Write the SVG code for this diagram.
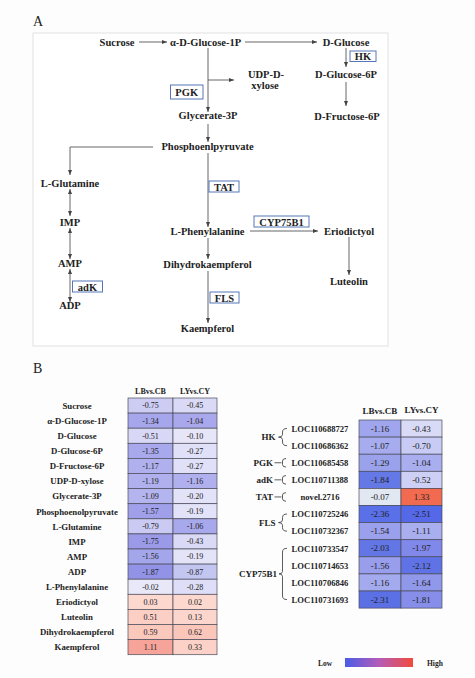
<svg xmlns="http://www.w3.org/2000/svg" width="475" height="678" viewBox="0 0 475 678">
<defs>
<style>
.lbl{font-family:"Liberation Serif","Times New Roman",serif;font-weight:bold;font-size:10.5px;fill:#222;text-anchor:middle}
.enz{font-family:"Liberation Serif","Times New Roman",serif;font-weight:bold;font-size:10.5px;fill:#222;text-anchor:middle}
.box{fill:#fff;stroke:#5577b8;stroke-width:1}
.pan{font-family:"Liberation Serif","Times New Roman",serif;font-size:14px;fill:#222}
.con{fill:none;stroke:#555;stroke-width:0.9}
.rl{font-family:"Liberation Serif","Times New Roman",serif;font-weight:bold;font-size:8.8px;fill:#222;text-anchor:middle}
.hd{font-family:"Liberation Serif","Times New Roman",serif;font-weight:bold;font-size:8px;fill:#222;text-anchor:middle}
.hd2{font-family:"Liberation Serif","Times New Roman",serif;font-weight:bold;font-size:9px;fill:#222;text-anchor:middle}
.v{font-family:"Liberation Serif","Times New Roman",serif;font-size:8px;fill:#222;text-anchor:middle}
.v2{font-family:"Liberation Serif","Times New Roman",serif;font-size:9px;fill:#222;text-anchor:middle}
.gl{font-family:"Liberation Serif","Times New Roman",serif;font-weight:bold;font-size:8.6px;fill:#222;text-anchor:middle}
.gr{font-family:"Liberation Serif","Times New Roman",serif;font-weight:bold;font-size:9px;fill:#222;text-anchor:end}
.cell{stroke:#4a4a5a;stroke-width:0.7}
.br{fill:none;stroke:#333;stroke-width:0.8}
.leg{font-family:"Liberation Serif","Times New Roman",serif;font-weight:bold;font-size:7.5px;fill:#222}
</style>
<marker id="ah" markerUnits="userSpaceOnUse" markerWidth="5" markerHeight="4" refX="5" refY="2" orient="auto-start-reverse">
<path d="M0,0 L5,2 L0,4 z" fill="#444"/>
</marker>
<linearGradient id="lg" x1="0" y1="0" x2="1" y2="0">
<stop offset="0" stop-color="#4a5ce6"/>
<stop offset="0.5" stop-color="#b45cb8"/>
<stop offset="1" stop-color="#f24a3c"/>
</linearGradient>
</defs>
<rect x="0" y="0" width="475" height="678" fill="#fdfdfd"/>

<!-- Panel A -->
<text class="pan" x="33" y="26">A</text>
<rect x="33" y="33" width="355" height="313" fill="#fff" stroke="#e2e2e2" stroke-width="1"/>

<g id="connectors">
<line class="con" x1="139" y1="42" x2="167" y2="42" marker-end="url(#ah)"/>
<line class="con" x1="245" y1="42" x2="317" y2="42" marker-end="url(#ah)"/>
<line class="con" x1="346" y1="48" x2="346" y2="67" marker-end="url(#ah)"/>
<line class="con" x1="346" y1="82" x2="346" y2="106" marker-end="url(#ah)"/>
<line class="con" x1="208" y1="48" x2="208" y2="112" marker-end="url(#ah)"/>
<line class="con" x1="208" y1="80" x2="234" y2="80" marker-end="url(#ah)"/>
<line class="con" x1="208" y1="124" x2="208" y2="142" marker-end="url(#ah)"/>
<polyline class="con" points="153,147 70,147 70,175" marker-end="url(#ah)"/>
<line class="con" x1="70" y1="189" x2="70" y2="216" marker-start="url(#ah)" marker-end="url(#ah)"/>
<line class="con" x1="70" y1="228" x2="70" y2="259" marker-start="url(#ah)" marker-end="url(#ah)"/>
<line class="con" x1="70" y1="269" x2="70" y2="302" marker-start="url(#ah)" marker-end="url(#ah)"/>
<line class="con" x1="208" y1="153" x2="208" y2="227" marker-end="url(#ah)"/>
<line class="con" x1="250" y1="231" x2="318" y2="231" marker-end="url(#ah)"/>
<line class="con" x1="349" y1="237" x2="349" y2="275" marker-end="url(#ah)"/>
<line class="con" x1="208" y1="238" x2="208" y2="259" marker-end="url(#ah)"/>
<line class="con" x1="208" y1="271" x2="208" y2="323" marker-end="url(#ah)"/>
</g>

<g id="n-sucrose"><text class="lbl" x="117" y="46">Sucrose</text></g>
<g id="n-ag1p"><text class="lbl" x="205.5" y="46">α-D-Glucose-1P</text></g>
<g id="n-dglucose"><text class="lbl" x="346" y="46">D-Glucose</text></g>
<g id="n-dg6p"><text class="lbl" x="346" y="78">D-Glucose-6P</text></g>
<g id="n-df6p"><text class="lbl" x="347" y="120">D-Fructose-6P</text></g>
<g id="n-udp"><text class="lbl" x="266" y="78">UDP-D-</text><text class="lbl" x="265" y="89">xylose</text></g>
<g id="n-gly3p"><text class="lbl" x="208" y="119">Glycerate-3P</text></g>
<g id="n-pep"><text class="lbl" x="207.5" y="150">Phosphoenlpyruvate</text></g>
<g id="n-lglu"><text class="lbl" x="70" y="187">L-Glutamine</text></g>
<g id="n-imp"><text class="lbl" x="70" y="226">IMP</text></g>
<g id="n-amp"><text class="lbl" x="70" y="267">AMP</text></g>
<g id="n-adp"><text class="lbl" x="70" y="309">ADP</text></g>
<g id="n-lphe"><text class="lbl" x="207.5" y="235">L-Phenylalanine</text></g>
<g id="n-erio"><text class="lbl" x="349" y="235">Eriodictyol</text></g>
<g id="n-lute"><text class="lbl" x="349" y="285">Luteolin</text></g>
<g id="n-dhk"><text class="lbl" x="207.5" y="268">Dihydrokaempferol</text></g>
<g id="n-kae"><text class="lbl" x="207.5" y="332">Kaempferol</text></g>

<g id="e-hk"><rect class="box" x="350" y="51" width="26" height="10.5"/><text class="enz" x="363" y="60">HK</text></g>
<g id="e-pgk"><rect class="box" x="170.5" y="85" width="32.5" height="14"/><text class="enz" x="186.7" y="96">PGK</text></g>
<g id="e-tat"><rect class="box" x="209" y="181" width="30" height="11"/><text class="enz" x="224" y="190.5">TAT</text></g>
<g id="e-cyp"><rect class="box" x="254" y="216" width="55" height="11"/><text class="enz" x="281.5" y="225.5">CYP75B1</text></g>
<g id="e-adk"><rect class="box" x="72.5" y="281" width="30" height="11"/><text class="enz" x="87.5" y="290.5">adK</text></g>
<g id="e-fls"><rect class="box" x="210" y="292" width="29" height="11"/><text class="enz" x="224.5" y="301.5">FLS</text></g>

<!-- Panel B -->
<text class="pan" x="33" y="373">B</text>

<g id="heatmap-left">
<text class="hd" x="150.5" y="394">LBvs.CB</text>
<text class="hd" x="195" y="394">LYvs.CY</text>
<g class="cell">
<rect x="128" y="398" width="45" height="15.1" fill="#cdcdf4"/><rect x="173" y="398" width="44" height="15.1" fill="#dadaf6"/>
<rect x="128" y="413.1" width="45" height="15.1" fill="#a6a6ec"/><rect x="173" y="413.1" width="44" height="15.1" fill="#aaa8ec"/>
<rect x="128" y="428.2" width="45" height="15.1" fill="#d8d8f6"/><rect x="173" y="428.2" width="44" height="15.1" fill="#e6e6f8"/>
<rect x="128" y="443.3" width="45" height="15.1" fill="#a8a8ec"/><rect x="173" y="443.3" width="44" height="15.1" fill="#e0e0f8"/>
<rect x="128" y="458.4" width="45" height="15.1" fill="#b0b0ee"/><rect x="173" y="458.4" width="44" height="15.1" fill="#e0e0f8"/>
<rect x="128" y="473.5" width="45" height="15.1" fill="#b0b0ee"/><rect x="173" y="473.5" width="44" height="15.1" fill="#b0b0ee"/>
<rect x="128" y="488.6" width="45" height="15.1" fill="#b4b4ee"/><rect x="173" y="488.6" width="44" height="15.1" fill="#e2e2f8"/>
<rect x="128" y="503.7" width="45" height="15.1" fill="#a0a0ea"/><rect x="173" y="503.7" width="44" height="15.1" fill="#e2e2f8"/>
<rect x="128" y="518.8" width="45" height="15.1" fill="#cacaf2"/><rect x="173" y="518.8" width="44" height="15.1" fill="#a8a8ec"/>
<rect x="128" y="533.9" width="45" height="15.1" fill="#9a9ae8"/><rect x="173" y="533.9" width="44" height="15.1" fill="#dadaf6"/>
<rect x="128" y="549" width="45" height="15.1" fill="#a4a6ec"/><rect x="173" y="549" width="44" height="15.1" fill="#e4e4f8"/>
<rect x="128" y="564.1" width="45" height="15.1" fill="#9292e6"/><rect x="173" y="564.1" width="44" height="15.1" fill="#c4c6f2"/>
<rect x="128" y="579.2" width="45" height="15.1" fill="#e8e8f8"/><rect x="173" y="579.2" width="44" height="15.1" fill="#dedef8"/>
<rect x="128" y="594.3" width="45" height="15.1" fill="#fcd8cf"/><rect x="173" y="594.3" width="44" height="15.1" fill="#fcd8cf"/>
<rect x="128" y="609.4" width="45" height="15.1" fill="#fccfc5"/><rect x="173" y="609.4" width="44" height="15.1" fill="#fcd6cc"/>
<rect x="128" y="624.5" width="45" height="15.1" fill="#fbc8bc"/><rect x="173" y="624.5" width="44" height="15.1" fill="#fbc6ba"/>
<rect x="128" y="639.6" width="45" height="15.1" fill="#f6a49a"/><rect x="173" y="639.6" width="44" height="15.1" fill="#fcd2c8"/>
</g>
<g>
<text class="rl" x="77" y="408.8">Sucrose</text>
<text class="rl" x="77" y="423.9">α-D-Glucose-1P</text>
<text class="rl" x="77" y="439">D-Glucose</text>
<text class="rl" x="77" y="454">D-Glucose-6P</text>
<text class="rl" x="77" y="469.2">D-Fructose-6P</text>
<text class="rl" x="77" y="484.2">UDP-D-xylose</text>
<text class="rl" x="77" y="499.4">Glycerate-3P</text>
<text class="rl" x="77" y="514.5">Phosphoenolpyruvate</text>
<text class="rl" x="77" y="529.6">L-Glutamine</text>
<text class="rl" x="77" y="544.7">IMP</text>
<text class="rl" x="77" y="559.8">AMP</text>
<text class="rl" x="77" y="574.9">ADP</text>
<text class="rl" x="77" y="590">L-Phenylalanine</text>
<text class="rl" x="77" y="605">Eriodictyol</text>
<text class="rl" x="77" y="620.2">Luteolin</text>
<text class="rl" x="77" y="635.3">Dihydrokaempferol</text>
<text class="rl" x="77" y="650.4">Kaempferol</text>
</g>
<g>
<text class="v" x="150.5" y="408.4">-0.75</text><text class="v" x="195" y="408.4">-0.45</text>
<text class="v" x="150.5" y="423.5">-1.34</text><text class="v" x="195" y="423.5">-1.04</text>
<text class="v" x="150.5" y="438.6">-0.51</text><text class="v" x="195" y="438.6">-0.10</text>
<text class="v" x="150.5" y="453.7">-1.35</text><text class="v" x="195" y="453.7">-0.27</text>
<text class="v" x="150.5" y="468.8">-1.17</text><text class="v" x="195" y="468.8">-0.27</text>
<text class="v" x="150.5" y="483.9">-1.19</text><text class="v" x="195" y="483.9">-1.16</text>
<text class="v" x="150.5" y="499">-1.09</text><text class="v" x="195" y="499">-0.20</text>
<text class="v" x="150.5" y="514.1">-1.57</text><text class="v" x="195" y="514.1">-0.19</text>
<text class="v" x="150.5" y="529.2">-0.79</text><text class="v" x="195" y="529.2">-1.06</text>
<text class="v" x="150.5" y="544.3">-1.75</text><text class="v" x="195" y="544.3">-0.43</text>
<text class="v" x="150.5" y="559.4">-1.56</text><text class="v" x="195" y="559.4">-0.19</text>
<text class="v" x="150.5" y="574.5">-1.87</text><text class="v" x="195" y="574.5">-0.87</text>
<text class="v" x="150.5" y="589.6">-0.02</text><text class="v" x="195" y="589.6">-0.28</text>
<text class="v" x="150.5" y="604.7">0.03</text><text class="v" x="195" y="604.7">0.02</text>
<text class="v" x="150.5" y="619.8">0.51</text><text class="v" x="195" y="619.8">0.13</text>
<text class="v" x="150.5" y="634.9">0.59</text><text class="v" x="195" y="634.9">0.62</text>
<text class="v" x="150.5" y="650">1.11</text><text class="v" x="195" y="650">0.33</text>
</g>
</g>

<g id="heatmap-right">
<text class="hd2" x="380" y="414">LBvs.CB</text>
<text class="hd2" x="421.5" y="413">LYvs.CY</text>
<g class="cell">
<rect x="359" y="420" width="42" height="17.1" fill="#a0a6ee"/><rect x="401" y="420" width="41" height="17.1" fill="#d8daf6"/>
<rect x="359" y="437.1" width="42" height="17.1" fill="#a6acee"/><rect x="401" y="437.1" width="41" height="17.1" fill="#c8ccf4"/>
<rect x="359" y="454.2" width="42" height="17.1" fill="#9aa2ec"/><rect x="401" y="454.2" width="41" height="17.1" fill="#a8aeee"/>
<rect x="359" y="471.3" width="42" height="17.1" fill="#6478e6"/><rect x="401" y="471.3" width="41" height="17.1" fill="#cdd0f4"/>
<rect x="359" y="488.4" width="42" height="17.1" fill="#e2e8f2"/><rect x="401" y="488.4" width="41" height="17.1" fill="#f26a50"/>
<rect x="359" y="505.5" width="42" height="17.1" fill="#5a70e8"/><rect x="401" y="505.5" width="41" height="17.1" fill="#5468e8"/>
<rect x="359" y="522.6" width="42" height="17.1" fill="#9aa0ec"/><rect x="401" y="522.6" width="41" height="17.1" fill="#a8aeee"/>
<rect x="359" y="539.7" width="42" height="17.1" fill="#6276e6"/><rect x="401" y="539.7" width="41" height="17.1" fill="#8088ea"/>
<rect x="359" y="556.8" width="42" height="17.1" fill="#989eec"/><rect x="401" y="556.8" width="41" height="17.1" fill="#6073e6"/>
<rect x="359" y="573.9" width="42" height="17.1" fill="#a4aaee"/><rect x="401" y="573.9" width="41" height="17.1" fill="#9098ea"/>
<rect x="359" y="591" width="42" height="17.1" fill="#5c70e6"/><rect x="401" y="591" width="41" height="17.1" fill="#868eea"/>
</g>
<g>
<text class="gl" x="320" y="431.8">LOC110688727</text>
<text class="gl" x="320" y="448.9">LOC110686362</text>
<text class="gl" x="320" y="466">LOC110685458</text>
<text class="gl" x="320" y="483.1">LOC110711388</text>
<text class="gl" x="320" y="500.2">novel.2716</text>
<text class="gl" x="320" y="517.3">LOC110725246</text>
<text class="gl" x="320" y="534.4">LOC110732367</text>
<text class="gl" x="320" y="551.5">LOC110733547</text>
<text class="gl" x="320" y="568.6">LOC110714653</text>
<text class="gl" x="320" y="585.7">LOC110706846</text>
<text class="gl" x="320" y="602.8">LOC110731693</text>
</g>
<g>
<text class="v2" x="380" y="431.7">-1.16</text><text class="v2" x="421.5" y="431.7">-0.43</text>
<text class="v2" x="380" y="448.8">-1.07</text><text class="v2" x="421.5" y="448.8">-0.70</text>
<text class="v2" x="380" y="465.9">-1.29</text><text class="v2" x="421.5" y="465.9">-1.04</text>
<text class="v2" x="380" y="483">-1.84</text><text class="v2" x="421.5" y="483">-0.52</text>
<text class="v2" x="380" y="500.1">-0.07</text><text class="v2" x="421.5" y="500.1">1.33</text>
<text class="v2" x="380" y="517.2">-2.36</text><text class="v2" x="421.5" y="517.2">-2.51</text>
<text class="v2" x="380" y="534.3">-1.54</text><text class="v2" x="421.5" y="534.3">-1.11</text>
<text class="v2" x="380" y="551.4">-2.03</text><text class="v2" x="421.5" y="551.4">-1.97</text>
<text class="v2" x="380" y="568.5">-1.56</text><text class="v2" x="421.5" y="568.5">-2.12</text>
<text class="v2" x="380" y="585.6">-1.16</text><text class="v2" x="421.5" y="585.6">-1.64</text>
<text class="v2" x="380" y="602.7">-2.31</text><text class="v2" x="421.5" y="602.7">-1.81</text>
</g>
<g id="groups">
<text class="gr" x="275.5" y="440.3">HK</text>
<path class="br" d="M287,428.5 Q282.5,428.5 282.5,432 L282.5,434.5 Q282.5,437.1 278.5,437.1 Q282.5,437.1 282.5,439.7 L282.5,442 Q282.5,445.7 287,445.7"/>
<text class="gr" x="273" y="465.9">PGK</text>
<path class="br" d="M274.5,462.75 L281.5,462.75 M286,458.5 Q282.5,458.5 282.5,461 L282.5,464.5 Q282.5,467 286,467"/>
<text class="gr" x="273" y="483">adK</text>
<path class="br" d="M274.5,479.85 L281.5,479.85 M286,475.6 Q282.5,475.6 282.5,478 L282.5,481.7 Q282.5,484.1 286,484.1"/>
<text class="gr" x="273" y="500.1">TAT</text>
<path class="br" d="M274.5,496.95 L281.5,496.95 M286,492.7 Q282.5,492.7 282.5,495 L282.5,498.8 Q282.5,501.2 286,501.2"/>
<text class="gr" x="275.5" y="525.8">FLS</text>
<path class="br" d="M287,514 Q282.5,514 282.5,517.5 L282.5,520 Q282.5,522.6 278.5,522.6 Q282.5,522.6 282.5,525.2 L282.5,527.7 Q282.5,531.2 287,531.2"/>
<text class="gr" x="277" y="577.1">CYP75B1</text>
<path class="br" d="M287,548.3 Q282.5,548.3 282.5,552 L282.5,571.3 Q282.5,573.9 279,573.9 Q282.5,573.9 282.5,576.5 L282.5,596 Q282.5,599.6 287,599.6"/>
</g>
</g>

<g id="legend">
<text class="leg" x="318" y="665.5">Low</text>
<rect x="345" y="658" width="68" height="9" fill="url(#lg)"/>
<text class="leg" x="427" y="665.5">High</text>
</g>
</svg>
